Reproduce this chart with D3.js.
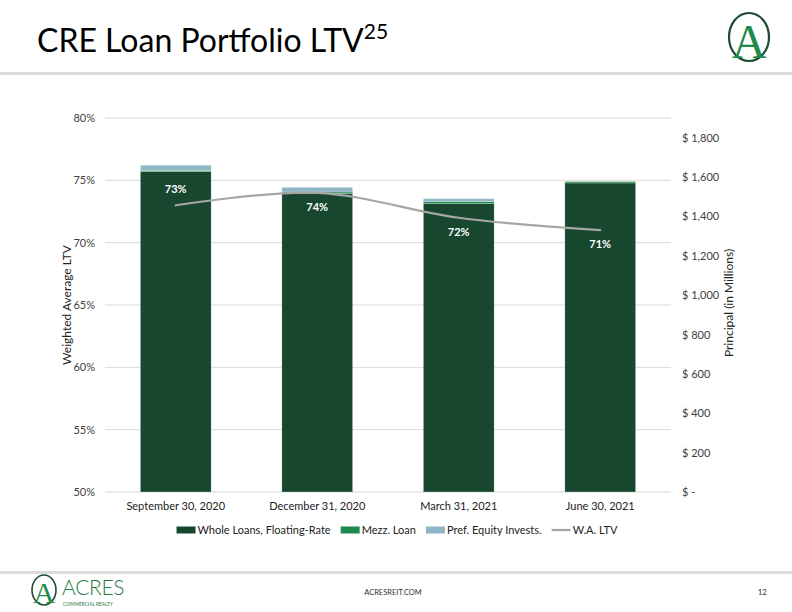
<!DOCTYPE html>
<html>
<head>
<meta charset="utf-8">
<script src="https://cdn.jsdelivr.net/npm/d3@7"></script>
<style>
  html, body { margin: 0; padding: 0; background: #fff; }
  svg { display: block; font-family: Lato, "Open Sans", sans-serif; }
</style>
</head>
<body>
<svg id="chart" width="792" height="612"></svg>
<script>
// ---- data ----
const categories = ["September 30, 2020", "December 31, 2020", "March 31, 2021", "June 30, 2021"];
const wholeLoans = [1628, 1517, 1466, 1570];
const mezzLoan   = [6, 7, 10, 7];
const prefEquity = [26, 24, 14, 0];
const waLTV      = [0.73, 0.74, 0.72, 0.71];
const ltvLabelPos = ["above", "below", "below", "below"];
const leftTicks  = [0.50, 0.55, 0.60, 0.65, 0.70, 0.75, 0.80];
const rightTicks = [0, 200, 400, 600, 800, 1000, 1200, 1400, 1600, 1800];
const seriesNames = ["Whole Loans, Floating-Rate", "Mezz. Loan", "Pref. Equity Invests.", "W.A. LTV"];

const colors = { whole: "#17472f", mezz: "#1e8a4d", pref: "#8fb6c6", line: "#a6a6a6" };

const svg = d3.select("#chart");
const W = 792, H = 612;
const plot = { left: 105, right: 671, top: 118, bottom: 492 };

// ---- header ----
const title = svg.append("text").attr("x", 37).attr("y", 52)
  .attr("font-size", 32).attr("fill", "#000").attr("font-weight", 400);
title.append("tspan").text("CRE Loan Portfolio LTV");
title.append("tspan").attr("font-size", 21).attr("dy", -13).text("25");

svg.append("rect").attr("x", 0).attr("y", 72).attr("width", W).attr("height", 3).attr("fill", "#dcdcdc");
svg.append("rect").attr("x", 0).attr("y", 571).attr("width", W).attr("height", 3).attr("fill", "#dcdcdc");

// top-right logo
const logo = svg.append("g").attr("transform", "translate(749,37)");
logo.append("ellipse").attr("rx", 20).attr("ry", 24).attr("fill", "none")
  .attr("stroke", "#1d4a33").attr("stroke-width", 2.2);
logo.append("text").attr("text-anchor", "middle").attr("y", 21).attr("font-size", 48)
  .attr("font-family", "Liberation Serif, DejaVu Serif, serif").attr("fill", "#1e8a4d").text("A");

// footer logo
const flogo = svg.append("g").attr("transform", "translate(44,590)");
flogo.append("ellipse").attr("rx", 12).attr("ry", 15).attr("fill", "none")
  .attr("stroke", "#1d4a33").attr("stroke-width", 1.6);
flogo.append("text").attr("text-anchor", "middle").attr("y", 13).attr("font-size", 30)
  .attr("font-family", "Liberation Serif, DejaVu Serif, serif").attr("fill", "#1e8a4d").text("A");
svg.append("text").attr("x", 62).attr("y", 595).attr("font-size", 21).attr("font-weight", 300)
  .attr("fill", "#1e7a45").attr("letter-spacing", -0.3).text("ACRES");
svg.append("text").attr("x", 63).attr("y", 606).attr("font-size", 4.8)
  .attr("fill", "#1e7a45").text("COMMERCIAL REALTY");
svg.append("text").attr("x", 393).attr("y", 595).attr("text-anchor", "middle").attr("font-size", 7.5)
  .attr("fill", "#333").text("ACRESREIT.COM");
svg.append("text").attr("x", 767).attr("y", 595).attr("text-anchor", "end").attr("font-size", 8)
  .attr("fill", "#333").text("12");

// ---- scales ----
const x = d3.scaleBand().domain(categories).range([plot.left, plot.right]).paddingInner(0.5).paddingOuter(0.25);
const yL = d3.scaleLinear().domain([0.5, 0.8]).range([plot.bottom, plot.top]);
const yR = d3.scaleLinear().domain([0, 1900]).range([plot.bottom, plot.top]);

// gridlines
svg.append("g").selectAll("line").data(leftTicks).join("line")
  .attr("x1", plot.left).attr("x2", plot.right)
  .attr("y1", d => yL(d)).attr("y2", d => yL(d))
  .attr("stroke", "#d9d9d9").attr("stroke-width", 1);

// left axis
const gL = svg.append("g").attr("transform", `translate(${plot.left},0)`)
  .call(d3.axisLeft(yL).tickValues(leftTicks).tickFormat(d3.format(".0%")).tickSize(0).tickPadding(10));
gL.select(".domain").remove();
gL.selectAll("text").attr("font-size", 11).attr("fill", "#404040").attr("font-family", "Lato");

// right axis
const gR = svg.append("g").attr("transform", `translate(${plot.right},0)`)
  .call(d3.axisRight(yR).tickValues(rightTicks)
    .tickFormat(v => v === 0 ? "$ -" : "$ " + d3.format(",")(v)).tickSize(0).tickPadding(11));
gR.select(".domain").remove();
gR.selectAll("text").attr("font-size", 11).attr("fill", "#404040").attr("font-family", "Lato");

// axis titles
svg.append("text").attr("transform", `translate(71,${(plot.top + plot.bottom) / 2}) rotate(-90)`)
  .attr("text-anchor", "middle").attr("font-size", 12).attr("fill", "#222").text("Weighted Average LTV");
svg.append("text").attr("transform", `translate(733,${(plot.top + plot.bottom) / 2 - 2}) rotate(-90)`)
  .attr("text-anchor", "middle").attr("font-size", 12).attr("fill", "#222").text("Principal (in Millions)");

// ---- stacked bars ----
const rows = categories.map((c, i) => ({ cat: c, whole: wholeLoans[i], mezz: mezzLoan[i], pref: prefEquity[i] }));
const stack = d3.stack().keys(["whole", "mezz", "pref"])(rows);
svg.append("g").selectAll("g").data(stack).join("g")
  .attr("fill", d => colors[d.key])
  .selectAll("rect").data(d => d).join("rect")
  .attr("x", d => x(d.data.cat)).attr("width", x.bandwidth())
  .attr("y", d => yR(d[1])).attr("height", d => Math.max(0, yR(d[0]) - yR(d[1])))
  .attr("stroke", "#ffffff").attr("stroke-width", 0.5).attr("stroke-opacity", 0.5);

// category axis
const gB = svg.append("g").attr("transform", `translate(0,${plot.bottom})`)
  .call(d3.axisBottom(x).tickSize(0).tickPadding(10));
gB.select(".domain").remove();
gB.selectAll("text").attr("font-size", 11).attr("fill", "#222").attr("font-family", "Lato");

// ---- W.A. LTV line ----
const line = d3.line().x((d, i) => x(categories[i]) + x.bandwidth() / 2).y(d => yL(d))
  .curve(d3.curveCatmullRom.alpha(0));
svg.append("path").datum(waLTV).attr("d", line).attr("fill", "none")
  .attr("stroke", colors.line).attr("stroke-width", 2.2).attr("stroke-linecap", "round");

svg.append("g").selectAll("text").data(waLTV).join("text")
  .attr("x", (d, i) => x(categories[i]) + x.bandwidth() / 2)
  .attr("y", (d, i) => ltvLabelPos[i] === "above" ? yL(d) - 12 : yL(d) + 18)
  .attr("text-anchor", "middle").attr("font-size", 11).attr("font-weight", 700)
  .attr("fill", "#ffffff").text(d => d3.format(".0%")(d));

// ---- legend ----
const legend = svg.append("g").attr("transform", "translate(0,530)");
const swatchColors = [colors.whole, colors.mezz, colors.pref, colors.line];
let cx = 0;
const items = [];
seriesNames.forEach((name, i) => {
  const g = legend.append("g");
  if (i < 3) {
    g.append("rect").attr("x", 0).attr("y", -3.5).attr("width", 19).attr("height", 7).attr("fill", swatchColors[i]);
  } else {
    g.append("line").attr("x1", 0).attr("x2", 19).attr("y1", 0).attr("y2", 0)
      .attr("stroke", swatchColors[i]).attr("stroke-width", 2.2);
  }
  const t = g.append("text").attr("x", 21).attr("y", 4).attr("font-size", 11).attr("fill", "#222").text(name);
  const w = 21 + t.node().getComputedTextLength();
  items.push({ g, w });
});
const gap = 10;
const total = d3.sum(items, d => d.w) + gap * (items.length - 1);
cx = 397 - total / 2;
items.forEach(it => { it.g.attr("transform", `translate(${cx},0)`); cx += it.w + gap; });
</script>
</body>
</html>
